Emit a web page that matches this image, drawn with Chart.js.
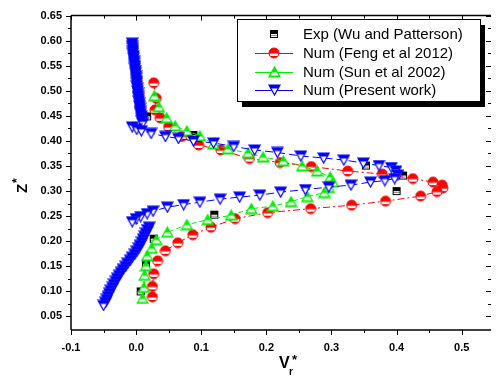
<!DOCTYPE html>
<html>
<head>
<meta charset="utf-8">
<script src="https://cdn.jsdelivr.net/npm/chart.js@4.4.1/dist/chart.umd.min.js"></script>
<style>
  html, body { margin: 0; padding: 0; background: #fff; }
</style>
</head>
<body>
<canvas id="chart" width="497" height="380"></canvas>
<script>
/*global Chart*/
// tick labels
var xTicks = [-0.1, 0.0, 0.1, 0.2, 0.3, 0.4, 0.5];
var yTicks = [0.05, 0.10, 0.15, 0.20, 0.25, 0.30, 0.35, 0.40, 0.45, 0.50, 0.55, 0.60, 0.65];

var seriesNames = ["Exp (Wu and Patterson)", "Num (Feng et al 2012)", "Num (Sun et al 2002)", "Num (Present work)"];

// Exp (Wu and Patterson)
var expV = [0.007, 0.015, 0.027, 0.120, 0.400, 0.410, 0.353, 0.088, 0.017];
var expZ = [0.100, 0.155, 0.205, 0.253, 0.300, 0.331, 0.351, 0.412, 0.449];

// Num (Feng et al 2012)
var fengV = [0.027, 0.031, 0.029, 0.037, 0.050, 0.070, 0.096, 0.130, 0.174, 0.221, 0.269, 0.325, 0.378, 0.425, 0.456, 0.470,
             0.471, 0.462, 0.437, 0.383, 0.331, 0.268, 0.202, 0.152, 0.115, 0.087, 0.064, 0.045, 0.033, 0.027, 0.025, 0.025];
var fengZ = [0.516, 0.485, 0.462, 0.446, 0.428, 0.409, 0.392, 0.382, 0.365, 0.357, 0.349, 0.340, 0.334, 0.325, 0.318, 0.312,
             0.306, 0.299, 0.290, 0.280, 0.272, 0.265, 0.257, 0.245, 0.228, 0.213, 0.197, 0.181, 0.161, 0.135, 0.110, 0.089];

// Num (Sun et al 2002)
var sunV = [0.028, 0.035, 0.047, 0.060, 0.078, 0.098, 0.119, 0.141, 0.172, 0.195, 0.226, 0.255, 0.278, 0.298, 0.302, 0.296,
            0.289, 0.263, 0.238, 0.210, 0.177, 0.146, 0.110, 0.078, 0.048, 0.031, 0.024, 0.017, 0.015, 0.013, 0.012, 0.010];
var sunZ = [0.490, 0.468, 0.446, 0.430, 0.420, 0.410, 0.394, 0.384, 0.376, 0.368, 0.360, 0.350, 0.340, 0.328, 0.318, 0.307,
            0.297, 0.289, 0.279, 0.270, 0.265, 0.252, 0.243, 0.233, 0.218, 0.203, 0.186, 0.171, 0.151, 0.132, 0.108, 0.086];

// Num (Present work)
var presentV = [-0.006, -0.006, -0.005, -0.005, -0.005, -0.004, -0.004, -0.003, -0.003, -0.002, -0.002, -0.001, -0.001, 0.000,
                0.000, 0.001, 0.001, 0.001, 0.002, 0.002, 0.003, 0.003, 0.004, 0.004, 0.005, 0.005, 0.006, 0.006, 0.007,
                0.008, 0.008, 0.009, 0.010,
                -0.006, 0.001, 0.008, 0.023, 0.045, 0.065, 0.088, 0.119, 0.150, 0.182, 0.217, 0.253, 0.288, 0.319, 0.349,
                0.373, 0.392, 0.399, 0.402, 0.397, 0.382, 0.360, 0.330, 0.296, 0.260, 0.222, 0.190, 0.159, 0.129, 0.098,
                0.073, 0.048, 0.026, 0.017, 0.007, 0.000, -0.006,
                0.020, 0.018, 0.015, 0.013, 0.011, 0.009, 0.006, 0.004, 0.001, -0.002, -0.006, -0.009, -0.013, -0.016,
                -0.020, -0.023, -0.026, -0.029, -0.031, -0.034, -0.036, -0.039, -0.041, -0.043, -0.045, -0.047, -0.050];
var presentZ = [0.595, 0.590, 0.585, 0.580, 0.575, 0.570, 0.565, 0.560, 0.555, 0.550, 0.545, 0.540, 0.535, 0.530,
                0.525, 0.520, 0.515, 0.510, 0.505, 0.500, 0.495, 0.490, 0.485, 0.480, 0.475, 0.470, 0.465, 0.460, 0.455,
                0.450, 0.445, 0.440, 0.435,
                0.428, 0.423, 0.420, 0.415, 0.409, 0.405, 0.400, 0.396, 0.389, 0.382, 0.377, 0.370, 0.366, 0.362, 0.356,
                0.351, 0.347, 0.340, 0.332, 0.325, 0.321, 0.318, 0.312, 0.308, 0.303, 0.298, 0.292, 0.288, 0.284, 0.278,
                0.273, 0.268, 0.260, 0.255, 0.249, 0.245, 0.239,
                0.228, 0.222, 0.216, 0.210, 0.204, 0.198, 0.192, 0.186, 0.180, 0.174, 0.168, 0.162, 0.156, 0.150,
                0.144, 0.138, 0.132, 0.126, 0.120, 0.114, 0.108, 0.102, 0.096, 0.090, 0.084, 0.078, 0.072];

var FONT = "'Liberation Sans', Arial, sans-serif";

var toPoints = function(vs, zs) {
  return vs.map(function(v, i) { return { x: v, y: zs[i] }; });
};

// half-filled Origin style markers
var makeMarker = function(kind, color) {
  var c = document.createElement('canvas');
  var ctx = c.getContext('2d');
  var path;
  if (kind === 'circle') {
    c.width = 12; c.height = 12;
    path = function() { ctx.beginPath(); ctx.arc(6, 6, 5, 0, Math.PI * 2); };
    path(); ctx.fillStyle = color; ctx.fill();
    ctx.save(); path(); ctx.clip();
    ctx.fillStyle = '#fff'; ctx.fillRect(0, 6.6, 12, 2.4);
    ctx.restore();
    path(); ctx.strokeStyle = color; ctx.lineWidth = 1; ctx.stroke();
  } else if (kind === 'up') {
    c.width = 13; c.height = 12;
    path = function() { ctx.beginPath(); ctx.moveTo(6.5, 1); ctx.lineTo(12, 11); ctx.lineTo(1, 11); ctx.closePath(); };
    path(); ctx.fillStyle = color; ctx.fill();
    ctx.save(); path(); ctx.clip();
    ctx.fillStyle = '#fff'; ctx.fillRect(0, 6.5, 13, 3);
    ctx.restore();
    path(); ctx.strokeStyle = color; ctx.lineWidth = 1.2; ctx.stroke();
  } else if (kind === 'down') {
    c.width = 13; c.height = 12;
    path = function() { ctx.beginPath(); ctx.moveTo(1, 1); ctx.lineTo(12, 1); ctx.lineTo(6.5, 11); ctx.closePath(); };
    path(); ctx.fillStyle = color; ctx.fill();
    ctx.save(); path(); ctx.clip();
    ctx.fillStyle = '#fff'; ctx.fillRect(0, 4.5, 13, 8);
    ctx.restore();
    path(); ctx.strokeStyle = color; ctx.lineWidth = 1.2; ctx.stroke();
  } else {
    c.width = 10; c.height = 10;
    ctx.fillStyle = '#fff'; ctx.fillRect(1, 1, 8, 8);
    ctx.fillStyle = color; ctx.fillRect(1, 1, 8, 4);
    ctx.strokeStyle = color; ctx.lineWidth = 1; ctx.strokeRect(1.5, 1.5, 7, 7);
    ctx.fillStyle = '#888'; ctx.fillRect(2, 6, 6, 1);
  }
  return c;
};

var markers = [makeMarker('square', '#000'), makeMarker('circle', '#ff0000'), makeMarker('up', '#00ee00'), makeMarker('down', '#0000ff')];
var colors = ['#000000', '#ff0000', '#00ee00', '#0000ff'];
var dashes = [[], [7, 3, 2, 3], [5, 3], [8, 4]];

var framePlugin = {
  id: 'frame',
  afterDraw: function(chart) {
    var ctx = chart.ctx, ca = chart.chartArea;
    var xs = chart.scales.x, ys = chart.scales.y;
    ctx.save();
    ctx.strokeStyle = '#000';
    // minor / major ticks
    ctx.lineWidth = 1;
    var i, v, px, len;
    for (i = 0; i <= 12; i++) {
      v = -0.1 + i * 0.05;
      px = Math.round(xs.getPixelForValue(v)) + 0.5;
      len = (i % 2 === 0) ? 5 : 3;
      ctx.beginPath();
      ctx.moveTo(px, ca.bottom); ctx.lineTo(px, ca.bottom + len);
      ctx.moveTo(px, ca.top); ctx.lineTo(px, ca.top + len);
      ctx.stroke();
    }
    for (i = 0; i <= 24; i++) {
      v = 0.05 + i * 0.025;
      px = Math.round(ys.getPixelForValue(v)) + 0.5;
      len = (i % 2 === 0) ? 5 : 3;
      ctx.beginPath();
      ctx.moveTo(ca.left, px); ctx.lineTo(ca.left - len, px);
      ctx.moveTo(ca.right, px); ctx.lineTo(ca.right - len, px);
      ctx.stroke();
    }
    // frame
    ctx.lineWidth = 1.5;
    ctx.beginPath();
    ctx.moveTo(ca.left, ca.top); ctx.lineTo(ca.right, ca.top);
    ctx.moveTo(ca.left, ca.top); ctx.lineTo(ca.left, ca.bottom);
    ctx.moveTo(ca.left, ca.bottom); ctx.lineTo(ca.right, ca.bottom);
    ctx.stroke();

    // axis titles
    ctx.fillStyle = '#000';
    ctx.textAlign = 'left';
    ctx.textBaseline = 'alphabetic';
    ctx.font = 'bold 16px ' + FONT;
    ctx.fillText('V', 279, 368);
    ctx.font = 'bold 10px ' + FONT;
    ctx.fillText('r', 289, 375);
    ctx.font = 'bold 13px ' + FONT;
    ctx.fillText('*', 292, 364);

    ctx.save();
    ctx.translate(27, 193);
    ctx.rotate(-Math.PI / 2);
    ctx.font = 'bold 15px ' + FONT;
    ctx.fillText('Z', 0, 0);
    ctx.font = 'bold 12px ' + FONT;
    ctx.fillText('*', 10, -6);
    ctx.restore();

    // legend box
    var bx = 237, by = 19, bw = 243, bh = 82;
    ctx.fillStyle = '#000';
    ctx.fillRect(bx + 5, by + 6, bw, bh);
    ctx.fillStyle = '#fff';
    ctx.fillRect(bx, by, bw, bh);
    ctx.lineWidth = 1;
    ctx.strokeStyle = '#000';
    ctx.strokeRect(bx + 0.5, by + 0.5, bw, bh);
    var rows = [34, 52.5, 71.5, 90];
    ctx.font = '15px ' + FONT;
    ctx.textBaseline = 'middle';
    for (i = 0; i < seriesNames.length; i++) {
      if (i > 0) {
        ctx.strokeStyle = colors[i];
        ctx.lineWidth = 1;
        ctx.beginPath();
        ctx.moveTo(255, Math.round(rows[i]) + 0.5);
        ctx.lineTo(293, Math.round(rows[i]) + 0.5);
        ctx.stroke();
      }
      var m = markers[i];
      ctx.drawImage(m, Math.round(274 - m.width / 2), Math.round(rows[i] - m.height / 2));
      ctx.fillStyle = '#000';
      ctx.fillText(seriesNames[i], 303, rows[i] + 1);
    }
    ctx.restore();
  }
};

var datasets = [
  { label: seriesNames[0], data: toPoints(expV, expZ), showLine: false, order: 4 },
  { label: seriesNames[1], data: toPoints(fengV, fengZ), showLine: true, order: 3 },
  { label: seriesNames[2], data: toPoints(sunV, sunZ), showLine: true, order: 2 },
  { label: seriesNames[3], data: toPoints(presentV, presentZ), showLine: true, order: 1 }
];
datasets.forEach(function(ds, i) {
  ds.borderColor = colors[i];
  ds.backgroundColor = colors[i];
  ds.borderWidth = 1;
  ds.borderDash = dashes[i];
  ds.pointStyle = markers[i];
  ds.pointRadius = 5;
  ds.tension = 0;
});

var tickFont = { family: FONT, size: 11, weight: 'bold' };

new Chart(document.getElementById('chart').getContext('2d'), {
  type: 'scatter',
  data: { datasets: datasets },
  options: {
    responsive: false,
    devicePixelRatio: 1,
    animation: false,
    layout: { padding: { top: 10, left: 0, right: 0, bottom: 0 } },
    plugins: { legend: { display: false }, tooltip: { enabled: false } },
    scales: {
      x: {
        type: 'linear', min: -0.1, max: 0.545,
        grid: { display: false, drawTicks: false },
        border: { display: false },
        ticks: { font: tickFont, color: '#000', padding: 11, maxRotation: 0, autoSkip: false,
                 callback: function(v) { return v.toFixed(1); } },
        afterBuildTicks: function(s) { s.ticks = xTicks.map(function(v) { return { value: v }; }); },
        afterFit: function(s) { s.height = 50; }
      },
      y: {
        type: 'linear', min: 0.023, max: 0.65,
        grid: { display: false, drawTicks: false },
        border: { display: false },
        ticks: { font: tickFont, color: '#000', padding: 9, autoSkip: false,
                 callback: function(v) { return v.toFixed(2); } },
        afterBuildTicks: function(s) { s.ticks = yTicks.map(function(v) { return { value: v }; }); },
        afterFit: function(s) { s.width = 71; }
      }
    }
  },
  plugins: [framePlugin]
});
</script>
</body>
</html>
